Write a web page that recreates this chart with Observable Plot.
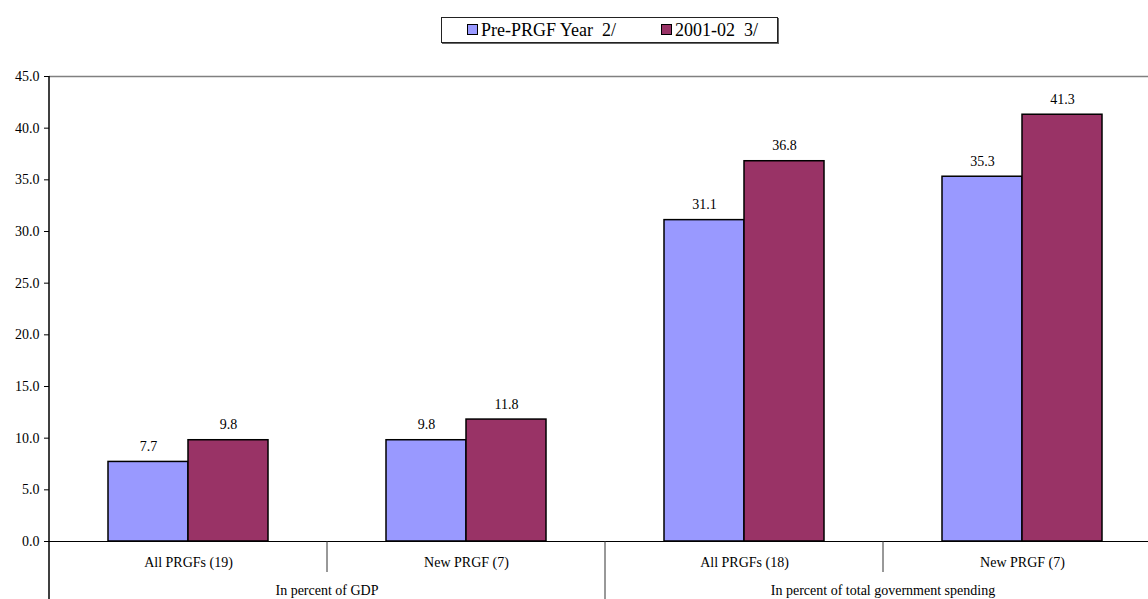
<!DOCTYPE html>
<html>
<head>
<meta charset="utf-8">
<script src="https://cdn.jsdelivr.net/npm/d3@7"></script>
<script src="https://cdn.jsdelivr.net/npm/@observablehq/plot@0.6"></script>
<style>
  html, body { margin: 0; padding: 0; overflow: hidden; background: #fff; }
  #wrap { position: relative; width: 1148px; height: 599px; overflow: hidden; }
  #wrap svg, #wrap svg text { font-family: "Liberation Serif", serif !important; font-size: 14px; }
  #legend { position: absolute; left: 441px; top: 17px; width: 337px; height: 26px; box-sizing: border-box;
    border: 1px solid #222; box-shadow: 1px 1px 0 #666; font: 18px "Liberation Serif", serif; color: #000; }
  .item { position: absolute; top: 0; height: 24px; line-height: 24px; white-space: pre; }
  .sw { position: absolute; top: 6px; width: 11px; height: 11px; box-sizing: border-box; border: 1px solid #000; }
</style>
</head>
<body>
<div id="wrap"><div id="legend"></div></div>
<script>
const categories = ["All PRGFs (19)", "New PRGF (7)", "All PRGFs (18)", "New PRGF (7)"];
const categoryGroup = [0, 0, 1, 1];
const groupNames = ["In percent of GDP", "In percent of total government spending"];
const seriesNames = ["Pre-PRGF Year  2/", "2001-02  3/"];
const preValues = [7.7, 9.8, 31.1, 35.3];
const postValues = [9.8, 11.8, 36.8, 41.3];
const seriesColors = ["#9999FF", "#993366"];
const yTicks = [0, 5, 10, 15, 20, 25, 30, 35, 40, 45];

const data = categories.flatMap((c, i) => [
  {cat: i, series: seriesNames[0], value: preValues[i]},
  {cat: i, series: seriesNames[1], value: postValues[i]}
]);

const chart = Plot.plot({
  width: 1161,
  height: 599,
  marginTop: 76,
  marginBottom: 58,
  marginLeft: 49,
  marginRight: 0,
  style: {maxWidth: "none", background: "#fff", color: "#000"},
  fx: {domain: d3.range(categories.length), padding: 0, tickSize: 0, tickPadding: 16,
       tickFormat: i => categories[i], label: null},
  x: {domain: seriesNames, paddingInner: 0, paddingOuter: 0.7375, axis: null},
  y: {domain: [0, 45], ticks: yTicks, tickFormat: d => d.toFixed(1), tickSize: 5, tickPadding: 5, label: null},
  color: {domain: seriesNames, range: seriesColors},
  marks: [
    Plot.ruleY([45], {stroke: "#808080", strokeWidth: 1.5}),
    Plot.barY(data, {fx: "cat", x: "series", y: "value", fill: "series", stroke: "#000", strokeWidth: 1.5}),
    Plot.text(data, {fx: "cat", x: "series", y: "value", text: d => d.value.toFixed(1),
      lineAnchor: "bottom", dy: -11, fill: "#000"}),
    Plot.ruleY([0], {stroke: "#000", strokeWidth: 1.2})
  ]
});

const svg = d3.select(chart);
const fx = chart.scale("fx");
const y = chart.scale("y");
const bw = fx.bandwidth;
const y0 = y.apply(0);
const H = 599;
// left axis line
svg.append("line").attr("x1", fx.apply(0)).attr("x2", fx.apply(0))
  .attr("y1", y.apply(45)).attr("y2", H).attr("stroke", "#000").attr("stroke-width", 1.5);
// category separators
for (let i = 1; i < categories.length; i++) {
  const isGroupEdge = categoryGroup[i] !== categoryGroup[i - 1];
  svg.append("line").attr("x1", fx.apply(i)).attr("x2", fx.apply(i))
    .attr("y1", y0).attr("y2", isGroupEdge ? H : y0 + 31)
    .attr("stroke", "#333").attr("stroke-width", 1);
}
// group labels
groupNames.forEach((g, gi) => {
  const idx = categories.map((c, i) => i).filter(i => categoryGroup[i] === gi);
  const cx = (fx.apply(idx[0]) + fx.apply(idx[idx.length - 1]) + bw) / 2;
  svg.append("text").attr("x", cx).attr("y", y0 + 44).attr("dy", "0.71em")
    .attr("text-anchor", "middle").attr("fill", "#000").text(g);
});

document.getElementById("wrap").appendChild(chart);

// legend
const legend = document.getElementById("legend");
const itemLefts = [25, 219];
seriesNames.forEach((s, i) => {
  const sw = document.createElement("div");
  sw.className = "sw";
  sw.style.left = itemLefts[i] + "px";
  sw.style.background = seriesColors[i];
  legend.appendChild(sw);
  const t = document.createElement("div");
  t.className = "item";
  t.style.left = (itemLefts[i] + 14) + "px";
  t.textContent = s;
  legend.appendChild(t);
});
</script>
</body>
</html>
